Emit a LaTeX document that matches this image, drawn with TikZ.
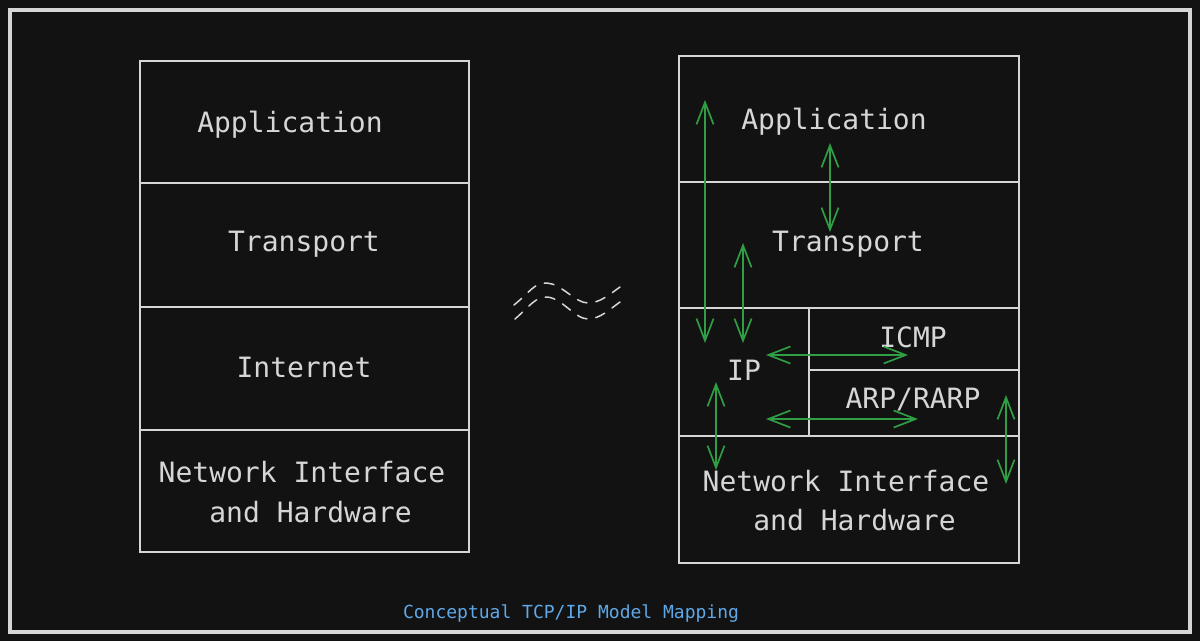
\documentclass[tikz,border=0pt]{standalone}
\usepackage{fontspec}
\setmonofont{DejaVu Sans Mono}
\usetikzlibrary{arrows.meta}
\definecolor{bg}{HTML}{121212}
\definecolor{edge}{HTML}{D6D6D6}
\definecolor{grn}{HTML}{2F9E44}
\definecolor{cap}{HTML}{5FA8E8}
\tikzset{
  layer/.style={draw=edge, line width=1.1pt, inner sep=0pt},
  lbl/.style={text=edge, font=\ttfamily\fontsize{28}{40}\selectfont, inner sep=0pt, align=center},
  garrow/.style={draw=grn, line width=1.7pt, {Straight Barb[length=22pt,width=17pt]}-{Straight Barb[length=22pt,width=17pt]}},
  wave/.style={draw=edge, line width=1.5pt, line cap=round, dash pattern=on 10pt off 9pt}
}
\begin{document}
\begin{tikzpicture}[x=1pt,y=-1pt]
\fill[bg] (0,0) rectangle (1200,641);
\useasboundingbox (0,0) rectangle (1200,641);
\draw[edge, line width=3.2pt] (10,10) rectangle (1190,632);
% left stack
\node[layer, minimum width=329pt, minimum height=122pt] (la) at (304.5,122) {};
\node[layer, minimum width=329pt, minimum height=124pt] (lt) at (304.5,245) {};
\node[layer, minimum width=329pt, minimum height=123pt] (li) at (304.5,368.5) {};
\node[layer, minimum width=329pt, minimum height=122pt] (ln) at (304.5,491) {};
\node[lbl] (tla) at (290,125) {Application};
\node[lbl] (tlt) at (304,244) {Transport};
\node[lbl] (tli) at (304,367) {Internet};
\node[lbl] (tln) at (302,492) {Network Interface\\ \hspace*{17pt}and Hardware};
% right stack
\node[layer, minimum width=340pt, minimum height=126pt] (ra) at (849,119) {};
\node[layer, minimum width=340pt, minimum height=126pt] (rt) at (849,245) {};
\node[layer, minimum width=130pt, minimum height=128pt] (rip) at (744,372) {};
\node[layer, minimum width=210pt, minimum height=62pt] (ric) at (914,339) {};
\node[layer, minimum width=210pt, minimum height=66pt] (rar) at (914,403) {};
\node[layer, minimum width=340pt, minimum height=127pt] (rn) at (849,499.5) {};
\node[lbl] (tra) at (834,122) {Application};
\node[lbl] (trt) at (848,244) {Transport};
\node[lbl] (trip) at (744,370) {IP};
\node[lbl] (tric) at (913,337) {ICMP};
\node[lbl] (trar) at (913,400) {ARP/RARP};
\node[lbl, font=\ttfamily\fontsize{28}{39}\selectfont] (trn) at (846,501) {Network Interface\\ \hspace*{17pt}and Hardware};
% arrows
\coordinate (a1s) at (705,100); \coordinate (a1e) at (705,343);
\coordinate (a2s) at (830,143); \coordinate (a2e) at (830,232);
\coordinate (a3s) at (743,243); \coordinate (a3e) at (743,343);
\coordinate (a4s) at (766,355); \coordinate (a4e) at (908,355);
\coordinate (a5s) at (716,382); \coordinate (a5e) at (716,470);
\coordinate (a6s) at (766,419); \coordinate (a6e) at (918,419);
\coordinate (a7s) at (1006,395); \coordinate (a7e) at (1006,484);
\draw[garrow] (a1s) -- (a1e);
\draw[garrow] (a2s) -- (a2e);
\draw[garrow] (a3s) -- (a3e);
\draw[garrow] (a4s) -- (a4e);
\draw[garrow] (a5s) -- (a5e);
\draw[garrow] (a6s) -- (a6e);
\draw[garrow] (a7s) -- (a7e);
% approx sign
\coordinate (w1) at (514,305);
\coordinate (w2) at (620,287);
\coordinate (w3) at (515,319);
\coordinate (w4) at (620,302);
\draw[wave] (w1) .. controls (530,292) and (535,282) .. (547,283) .. controls (562,284) and (575,303) .. (588,303) .. controls (600,303) and (610,294) .. (w2);
\draw[wave] (w3) .. controls (530,306) and (535,297) .. (547,297) .. controls (562,298) and (575,319) .. (588,319) .. controls (600,319) and (610,309) .. (w4);
% caption
\node[text=cap, font=\ttfamily\fontsize{18}{22}\selectfont, inner sep=0pt] (capt) at (571,614) {Conceptual TCP/IP Model Mapping};
\end{tikzpicture}
\end{document}
